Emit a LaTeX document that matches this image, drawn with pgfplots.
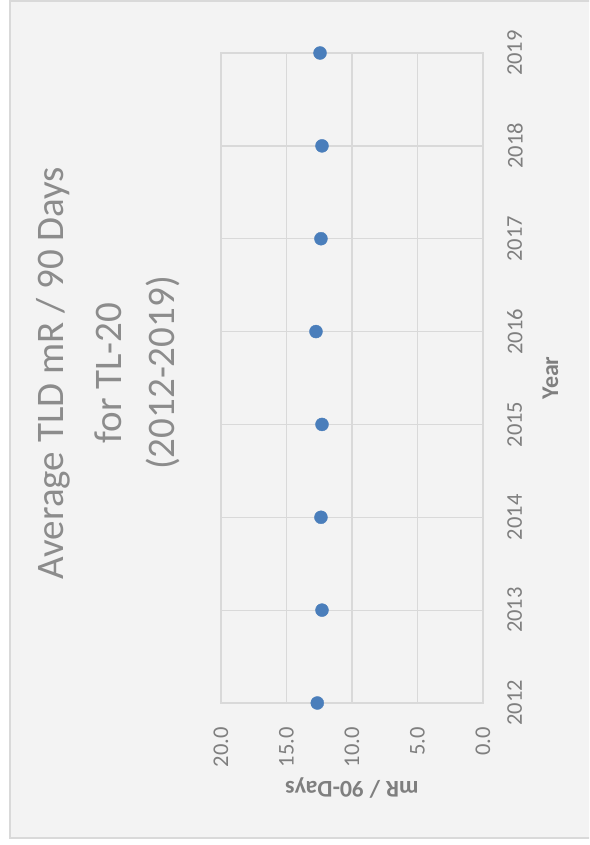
\documentclass[border=0pt]{standalone}
\usepackage{graphicx}
\usepackage{fontspec}
\setmainfont{Carlito}
\usepackage{pgfplots}
\pgfplotsset{compat=1.18}
\definecolor{gridgray}{HTML}{D9D9D9}
\definecolor{txtgray}{HTML}{7F7F7F}
\definecolor{ttlgray}{HTML}{8C8C8C}
\definecolor{bg}{HTML}{F3F3F3}
\definecolor{dotblue}{HTML}{4A7EBB}

\pgfplotstableread{
year  mr
2012  12.65
2013  12.29
2014  12.37
2015  12.29
2016  12.75
2017  12.37
2018  12.29
2019  12.44
}\tldData

\begin{document}
\rotatebox{90}{%
\begin{tikzpicture}
\path[use as bounding box] (0,0) rectangle (845pt,589pt);
\clip (0,0) rectangle (845pt,589pt);
\fill[white] (0,0) rectangle (845pt,589pt);
\draw[gridgray, line width=2pt, fill=bg] (7pt,-10pt) rectangle (844pt,579pt);

\begin{axis}[
    at={(142pt,106pt)}, anchor=south west,
    scale only axis, width=650pt, height=262pt,
    xmin=2012, xmax=2019, ymin=0, ymax=20,
    xtick={2012,...,2019}, ytick={0,5,...,20},
    grid=major, grid style={gridgray, line width=1.3pt},
    axis line style={gridgray, line width=1.3pt},
    major tick length=0pt,
    clip=false,
    /pgf/number format/assume math mode=true,
    tick label style={font=\fontsize{22.5}{27}\selectfont, text=txtgray},
    x tick label style={/pgf/number format/1000 sep={}, inner sep=0pt, yshift=-24pt},
    y tick label style={/pgf/number format/.cd, fixed, fixed zerofill, precision=1, /tikz/.cd, inner sep=0pt, xshift=-24pt},
    xlabel={Year}, ylabel={mR / 90-Days},
    label style={font=\bfseries\fontsize{24}{29}\selectfont, text=txtgray, inner sep=0pt},
    xlabel style={at={(rel axis cs:0.5,0)}, anchor=base, yshift=-75pt},
    ylabel style={at={(axis description cs:-0.1215,0.5)}, anchor=base},
]
\addplot[only marks, mark=*, mark size=6.5pt, mark options={fill=dotblue, draw=dotblue}]
    table[x=year, y=mr] {\tldData};
\end{axis}

\node[anchor=base, text=ttlgray, font=\fontsize{39}{46}\selectfont] at (472pt,525pt) {Average TLD mR / 90 Days};
\node[anchor=base, text=ttlgray, font=\fontsize{39}{46}\selectfont] at (472pt,467pt) {for TL-20};
\node[anchor=base, text=ttlgray, font=\fontsize{39}{46}\selectfont] at (472pt,414pt) {(2012-2019)};
\end{tikzpicture}%
}
\end{document}
